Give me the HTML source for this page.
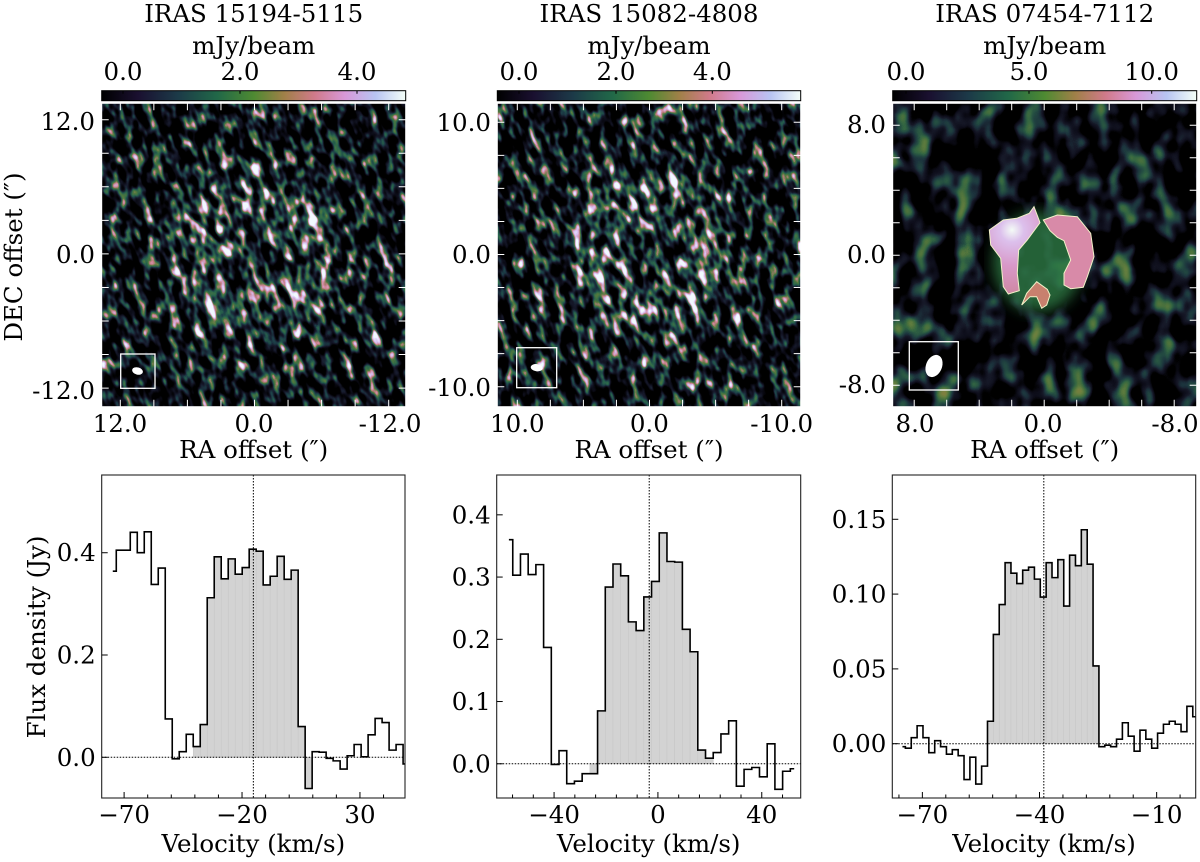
<!DOCTYPE html>
<html><head><meta charset="utf-8"><title>IRAS maps and spectra</title>
<style>
html,body{margin:0;padding:0;background:#fff;}
svg{display:block;font-family:"DejaVu Serif","Liberation Serif",serif;}
</style></head>
<body>
<svg id="fig" width="1200" height="862" viewBox="0 0 1200 862" xmlns="http://www.w3.org/2000/svg">
<defs>
  <linearGradient id="cmap" x1="0" x2="1" y1="0" y2="0">
    <stop offset="0" stop-color="#000000"/>
    <stop offset="0.12" stop-color="#1a1030"/>
    <stop offset="0.25" stop-color="#1c3a48"/>
    <stop offset="0.38" stop-color="#216848"/>
    <stop offset="0.5" stop-color="#4e8a32"/>
    <stop offset="0.6" stop-color="#a08048"/>
    <stop offset="0.7" stop-color="#d07a8a"/>
    <stop offset="0.8" stop-color="#d898d8"/>
    <stop offset="0.9" stop-color="#b8c4f2"/>
    <stop offset="1" stop-color="#f4fff8"/>
  </linearGradient>
  <radialGradient id="ring1" gradientUnits="objectBoundingBox" cx="0.5" cy="0.5" r="0.5">
    <stop offset="0" stop-color="rgb(40,40,40)"/>
    <stop offset="0.2" stop-color="rgb(110,110,110)"/>
    <stop offset="0.3" stop-color="rgb(130,130,130)"/>
    <stop offset="0.4" stop-color="rgb(30,30,30)"/>
    <stop offset="1" stop-color="rgb(0,0,0)"/>
  </radialGradient>
  <filter id="noiseA" x="0" y="0" width="1" height="1" color-interpolation-filters="sRGB">
    <feTurbulence type="fractalNoise" baseFrequency="0.11 0.06" numOctaves="2" seed="4" result="t"/>
    <feColorMatrix in="t" type="matrix" values="1 0 0 0 0  1 0 0 0 0  1 0 0 0 0  0 0 0 0 1" result="g"/>
    <feComposite in="g" in2="SourceGraphic" operator="arithmetic" k1="0" k2="1" k3="0.28" k4="-0.01" result="m"/>
    <feComponentTransfer in="m">
      <feFuncR type="table" tableValues="0 0 0 0 0 0 0 0 0 0 0.04 0.09 0.11 0.16 0.33 0.8 0.85 0.95 0.95 0.95 0.95"/>
      <feFuncG type="table" tableValues="0 0 0 0 0 0 0 0 0 0 0.04 0.1 0.24 0.4 0.48 0.5 0.75 0.98 0.98 0.98 0.98"/>
      <feFuncB type="table" tableValues="0 0 0 0 0 0 0 0 0 0 0.08 0.17 0.28 0.3 0.24 0.55 0.95 1 1 1 1"/>
      <feFuncA type="table" tableValues="1 1"/>
    </feComponentTransfer>
  </filter>
  <filter id="noiseB" x="0" y="0" width="1" height="1" color-interpolation-filters="sRGB">
    <feTurbulence type="fractalNoise" baseFrequency="0.045 0.035" numOctaves="2" seed="9" result="t"/>
    <feColorMatrix in="t" type="matrix" values="1 0 0 0 0  1 0 0 0 0  1 0 0 0 0  0 0 0 0 1" result="g"/>
    <feComposite in="g" in2="SourceGraphic" operator="arithmetic" k1="0" k2="1" k3="0" k4="-0.03" result="m"/>
    <feComponentTransfer in="m">
      <feFuncR type="table" tableValues="0 0 0 0 0 0 0 0 0 0 0.05 0.09 0.11 0.14 0.2 0.3 0.4 0.5 0.5 0.5 0.5"/>
      <feFuncG type="table" tableValues="0 0 0 0 0 0 0 0 0 0 0.05 0.1 0.2 0.3 0.4 0.45 0.5 0.5 0.5 0.5 0.5"/>
      <feFuncB type="table" tableValues="0 0 0 0 0 0 0 0 0 0 0.1 0.16 0.24 0.26 0.26 0.24 0.25 0.25 0.25 0.25 0.25"/>
      <feFuncA type="table" tableValues="1 1"/>
    </feComponentTransfer>
  </filter>
  <filter id="blur6"><feGaussianBlur stdDeviation="7"/></filter>
  <clipPath id="mc1"><rect x="101.7" y="103.3" width="304" height="303.4"/></clipPath>
  <clipPath id="mc2"><rect x="497.3" y="103.3" width="303.4" height="303.4"/></clipPath>
  <clipPath id="mc3"><rect x="892.7" y="103.3" width="304" height="303.4"/></clipPath>
  <radialGradient id="pinkFill" gradientUnits="userSpaceOnUse" cx="1012" cy="230" r="60">
    <stop offset="0" stop-color="#f4fbf6"/>
    <stop offset="0.2" stop-color="#dcc0ec"/>
    <stop offset="0.6" stop-color="#d898c8"/>
    <stop offset="1" stop-color="#d08aa8"/>
  </radialGradient>
</defs>

<!-- ================= MAP PANEL 1 ================= -->
<g>
  <text x="253.7" y="22" font-size="24.5" text-anchor="middle">IRAS 15194-5115</text>
  <text x="253.7" y="54" font-size="24.5" text-anchor="middle">mJy/beam</text>
  <rect x="101.7" y="90.7" width="304" height="10" fill="url(#cmap)" stroke="#000" stroke-width="1"/>
  <g font-size="24.5" text-anchor="middle">
    <text x="123" y="80">0.0</text><text x="240" y="80">2.0</text><text x="357" y="80">4.0</text>
    <path d="M123 90.7v3M240 90.7v3M357 90.7v3" stroke="#000"/>
  </g>
  <g clip-path="url(#mc1)">
    <rect x="20" y="20" width="470" height="470" fill="url(#ring1)" filter="url(#noiseA)" transform="rotate(-20 253.7 255)"/>
    <rect x="120.7" y="354" width="34.3" height="34.3" fill="none" stroke="#fff" stroke-width="1.3"/>
    <ellipse cx="137.5" cy="371" rx="5.5" ry="3.6" transform="rotate(15 137.5 371)" fill="#fff"/>
  </g>
  <rect x="101.7" y="103.3" width="304" height="303.4" fill="none" stroke="#fff" stroke-width="1"/>
  <g id="mt1" stroke="#fff" stroke-width="1"></g>
  <g font-size="24.5">
    <text x="95" y="130" text-anchor="end">12.0</text>
    <text x="95" y="263" text-anchor="end">0.0</text>
    <text x="95" y="399" text-anchor="end">-12.0</text>
    <text x="120" y="432" text-anchor="middle">12.0</text>
    <text x="254" y="432" text-anchor="middle">0.0</text>
    <text x="390" y="432" text-anchor="middle">-12.0</text>
  </g>
  <text x="253.7" y="458" font-size="24.5" text-anchor="middle">RA offset (″)</text>
  <text transform="translate(22 257) rotate(-90)" font-size="24.5" text-anchor="middle">DEC offset (″)</text>
</g>

<!-- ================= MAP PANEL 2 ================= -->
<g>
  <text x="649" y="22" font-size="24.5" text-anchor="middle">IRAS 15082-4808</text>
  <text x="649" y="54" font-size="24.5" text-anchor="middle">mJy/beam</text>
  <rect x="497.3" y="90.7" width="303.4" height="10" fill="url(#cmap)" stroke="#000" stroke-width="1"/>
  <g font-size="24.5" text-anchor="middle">
    <text x="519" y="80">0.0</text><text x="616" y="80">2.0</text><text x="712.3" y="80">4.0</text>
    <path d="M519 90.7v3M616 90.7v3M712.3 90.7v3" stroke="#000"/>
  </g>
  <g clip-path="url(#mc2)">
    <rect x="415" y="20" width="470" height="470" fill="url(#ring1)" filter="url(#noiseA)" transform="rotate(-18 649 255)"/>
    <rect x="516.7" y="347.7" width="40" height="40" fill="none" stroke="#fff" stroke-width="1.3"/>
    <ellipse cx="536.7" cy="367.7" rx="6" ry="3.6" transform="rotate(8 536.7 367.7)" fill="#fff"/>
  </g>
  <rect x="497.3" y="103.3" width="303.4" height="303.4" fill="none" stroke="#fff" stroke-width="1"/>
  <g id="mt2" stroke="#fff" stroke-width="1"></g>
  <g font-size="24.5">
    <text x="491" y="131" text-anchor="end">10.0</text>
    <text x="491" y="263" text-anchor="end">0.0</text>
    <text x="491" y="396" text-anchor="end">-10.0</text>
    <text x="517.3" y="432" text-anchor="middle">10.0</text>
    <text x="649.3" y="432" text-anchor="middle">0.0</text>
    <text x="781.7" y="432" text-anchor="middle">-10.0</text>
  </g>
  <text x="649" y="458" font-size="24.5" text-anchor="middle">RA offset (″)</text>
</g>

<!-- ================= MAP PANEL 3 ================= -->
<g>
  <text x="1044.7" y="22" font-size="24.5" text-anchor="middle">IRAS 07454-7112</text>
  <text x="1044.7" y="54" font-size="24.5" text-anchor="middle">mJy/beam</text>
  <rect x="892.7" y="90.7" width="304" height="10" fill="url(#cmap)" stroke="#000" stroke-width="1"/>
  <g font-size="24.5" text-anchor="middle">
    <text x="906" y="80">0.0</text><text x="1029" y="80">5.0</text><text x="1151.7" y="80">10.0</text>
    <path d="M906 90.7v3M1029 90.7v3M1151.7 90.7v3" stroke="#000"/>
  </g>
  <g clip-path="url(#mc3)">
    <rect x="892.7" y="103.3" width="304" height="303.4" fill="#000" filter="url(#noiseB)"/>
    <ellipse cx="1038" cy="262" rx="45" ry="50" fill="#2f7a45" opacity="0.8" filter="url(#blur6)"/>
    <path id="ringL" d="" fill="url(#pinkFill)" stroke="#f2f2c8" stroke-width="1"/>
    <path id="ringR" d="" fill="#d88aa8" stroke="#f2f2c8" stroke-width="1"/>
    <path id="ringB" d="" fill="#c8806e" stroke="#f2f2c8" stroke-width="1"/>
    <rect x="909.3" y="341.7" width="49" height="48.3" fill="none" stroke="#fff" stroke-width="1.3"/>
    <ellipse cx="934" cy="366" rx="8" ry="11.5" transform="rotate(22 934 366)" fill="#fff"/>
  </g>
  <rect x="892.7" y="103.3" width="304" height="303.4" fill="none" stroke="#fff" stroke-width="1"/>
  <g id="mt3" stroke="#fff" stroke-width="1"></g>
  <g font-size="24.5">
    <text x="886" y="133" text-anchor="end">8.0</text>
    <text x="886" y="263" text-anchor="end">0.0</text>
    <text x="886" y="393" text-anchor="end">-8.0</text>
    <text x="915" y="432" text-anchor="middle">8.0</text>
    <text x="1043" y="432" text-anchor="middle">0.0</text>
    <text x="1175" y="432" text-anchor="middle">-8.0</text>
  </g>
  <text x="1044.7" y="458" font-size="24.5" text-anchor="middle">RA offset (″)</text>
</g>

<text transform="translate(45 637) rotate(-90)" font-size="24.5" text-anchor="middle">Flux density (Jy)</text>
<g id="spectra"></g>
</svg>

<script>
// ---------------- spectrum data ----------------
const flux1 = [0.364,0.405,0.405,0.44,0.40,0.441,0.338,0.37,0.075,-0.003,0.011,0.045,0.021,0.064,0.312,0.392,0.349,0.388,0.358,0.371,0.407,0.403,0.337,0.354,0.393,0.348,0.366,0.06,-0.061,0.011,0.01,-0.002,-0.007,-0.023,0.003,0.025,0.001,0.044,0.076,0.068,0.014,0.025,-0.013];
const velStart1 = -74.8;
const chanWidth1 = 2.966;
const fillBins1 = [12, 28];
const vsys1 = -15.2;
const xMajor1 = [-70, -20, 30];
const xMinor1 = [-80,-60,-50,-40,-30,-10,0,10,20,40];
const yTicks1 = [0.0, 0.2, 0.4];
const yLabels1 = ["0.0", "0.2", "0.4"];

const flux2 = [0.36,0.303,0.337,0.304,0.32,0.187,-0.001,0.021,-0.032,-0.028,-0.016,-0.016,0.085,0.284,0.321,0.302,0.228,0.214,0.268,0.293,0.371,0.325,0.324,0.216,0.18,0.022,0.009,0.018,0.048,0.069,-0.036,-0.009,-0.006,-0.021,0.032,-0.041,-0.012,-0.008];
const velStart2 = -57.4;
const chanWidth2 = 2.97;
const fillBins2 = [11, 26];
const vsys2 = -3.35;
const xMajor2 = [-40, 0, 40];
const xMinor2 = [-56,-48,-32,-24,-16,-8,8,16,24,32,48];
const yTicks2 = [0.0, 0.1, 0.2, 0.3, 0.4];
const yLabels2 = ["0.0", "0.1", "0.2", "0.3", "0.4"];

const flux3 = [-0.002,-0.003,0.004,0.012,0.004,-0.006,0.002,-0.002,-0.007,-0.004,-0.008,-0.024,-0.009,-0.027,-0.015,0.015,0.073,0.093,0.121,0.114,0.107,0.116,0.118,0.110,0.098,0.121,0.111,0.123,0.092,0.126,0.119,0.143,0.120,0.052,-0.002,-0.001,-0.002,0.003,0.014,0.005,-0.005,0.009,0.003,-0.003,0.007,0.013,0.015,0.013,0.008,0.025,0.018,0.005];
const velStart3 = -75.1;
const chanWidth3 = 1.502;
const fillBins3 = [15, 33];
const vsys3 = -38.9;
const xMajor3 = [-70, -40, -10];
const xMinor3 = [-76,-64,-58,-52,-46,-34,-28,-22,-16,-4];
const yTicks3 = [0.0, 0.05, 0.10, 0.15];
const yLabels3 = ["0.00", "0.05", "0.10", "0.15"];

const NS = "http://www.w3.org/2000/svg";
function mk(tag, attrs, parent) {
  const e = document.createElementNS(NS, tag);
  for (const k in attrs) e.setAttribute(k, attrs[k]);
  if (parent) parent.appendChild(e);
  return e;
}

const panels = [
  {id:1, flux:flux1, v0:velStart1, dv:chanWidth1, fill:fillBins1, vsys:vsys1, xMaj:xMajor1, xMin:xMinor1, yT:yTicks1, yL:yLabels1,
   box:[101.7,475,405,798], xlim:[-79.5,49.1], ylim:[-0.0796,0.552]},
  {id:2, flux:flux2, v0:velStart2, dv:chanWidth2, fill:fillBins2, vsys:vsys2, xMaj:xMajor2, xMin:xMinor2, yT:yTicks2, yL:yLabels2,
   box:[496.7,475,800.7,798], xlim:[-62.1,55.0], ylim:[-0.055,0.464]},
  {id:3, flux:flux3, v0:velStart3, dv:chanWidth3, fill:fillBins3, vsys:vsys3, xMaj:xMajor3, xMin:xMinor3, yT:yTicks3, yL:yLabels3,
   box:[892.3,475,1195.7,798], xlim:[-77.7,0.0], ylim:[-0.0363,0.1796]}
];

const root = document.getElementById('spectra');
const defs = document.querySelector('defs');

panels.forEach(p => {
  const [x0,y0,x1,y1] = p.box;
  const sx = v => x0 + (v - p.xlim[0]) / (p.xlim[1] - p.xlim[0]) * (x1 - x0);
  const sy = f => y1 - (f - p.ylim[0]) / (p.ylim[1] - p.ylim[0]) * (y1 - y0);
  const cp = mk('clipPath', {id:'sc'+p.id}, defs);
  mk('rect', {x:x0, y:y0, width:x1-x0, height:y1-y0}, cp);

  const g = mk('g', {}, root);
  
  
  const cg = mk('g', {'clip-path':'url(#sc'+p.id+')'}, g);

  const centers = p.flux.map((_, i) => p.v0 + i * p.dv);
  for (let i = p.fill[0]; i <= p.fill[1]; i++) {
    const xa = sx(centers[i] - p.dv/2), xb = sx(centers[i] + p.dv/2);
    const ya = sy(0), yb = sy(p.flux[i]);
    const r = mk('rect', {x:xa, y:Math.min(ya,yb), width:xb-xa, height:Math.abs(ya-yb), fill:'#d3d3d3', stroke:'#c6c6c6', 'stroke-width':0.5}, cg);
    
    
  }
  const zl = mk('line', {x1:x0, x2:x1, y1:sy(0), y2:sy(0), stroke:'#000', 'stroke-width':1, 'stroke-dasharray':'1.5 1.5'}, cg);
  
  
  const vl = mk('line', {x1:sx(p.vsys), x2:sx(p.vsys), y1:y0, y2:y1, stroke:'#000', 'stroke-width':1, 'stroke-dasharray':'1.5 1.5'}, cg);
  
  
  let d = '';
  const n = p.flux.length;
  for (let i = 0; i < n; i++) {
    const xa = i === 0 ? sx(centers[0]) : sx(centers[i] - p.dv/2);
    const xb = i === n-1 ? sx(centers[i]) : sx(centers[i] + p.dv/2);
    const y = sy(p.flux[i]);
    d += (i === 0 ? 'M' : 'L') + xa.toFixed(2) + ' ' + y.toFixed(2) + 'L' + xb.toFixed(2) + ' ' + y.toFixed(2);
  }
  const sl = mk('path', {d:d, fill:'none', stroke:'#000', 'stroke-width':1.6, 'stroke-linejoin':'miter'}, cg);
  
  
  const fr = mk('rect', {x:x0, y:y0, width:x1-x0, height:y1-y0, fill:'none', stroke:'#222', 'stroke-width':1.1}, g);
  
  
  p.xMaj.forEach(v => {
    const t = mk('line', {x1:sx(v), x2:sx(v), y1:y1, y2:y1-6, stroke:'#000', 'stroke-width':1}, g);
    
    
    const lab = mk('text', {x:sx(v), y:823, 'font-size':24.5, 'text-anchor':'middle'}, g);
    lab.textContent = String(v).replace('-', '\u2212');
    
    
  });
  p.xMin.forEach(v => {
    if (v < p.xlim[0] || v > p.xlim[1]) return;
    const t = mk('line', {x1:sx(v), x2:sx(v), y1:y1, y2:y1-3.5, stroke:'#000', 'stroke-width':1}, g);
    
    
  });
  p.yT.forEach((f, k) => {
    const t = mk('line', {x1:x0, x2:x0+6, y1:sy(f), y2:sy(f), stroke:'#000', 'stroke-width':1}, g);
    
    
    const lab = mk('text', {x:x0-6, y:sy(f)+8.5, 'font-size':24.5, 'text-anchor':'end'}, g);
    lab.textContent = p.yL[k];
    
    
  });
  const xt = mk('text', {x:(x0+x1)/2, y:852, 'font-size':24.5, 'text-anchor':'middle'}, g);
  xt.textContent = 'Velocity (km/s)';
  
  
});

function mapTicks(id, x0, y0, w, h, first, step, count) {
  const g = document.getElementById(id);
  let d = '';
  for (let k = 0; k < count; k++) {
    const x = x0 + first + k * step;
    d += 'M' + x + ' ' + (y0+h) + 'v-7M' + x + ' ' + y0 + 'v7';
  }
  for (let k = 0; k < count; k++) {
    const y = y0 + h - first - k * step;
    d += 'M' + x0 + ' ' + y + 'h7M' + (x0+w) + ' ' + y + 'h-7';
  }
  const p = mk('path', {d:d}, g);
  
  
}
mapTicks('mt1', 101.7, 103.3, 304, 303.4, 18.6, 33.55, 9);
mapTicks('mt2', 497.3, 103.3, 303.4, 303.4, 20, 33.05, 9);
mapTicks('mt3', 892.7, 103.3, 304, 303.4, 21.5, 32.5, 9);

function ringPath(pts) {
  return 'M' + pts.map(q => (830 + q[0]/3).toFixed(1) + ' ' + (q[1]/3).toFixed(1)).join('L') + 'Z';
}
document.getElementById('ringL').setAttribute('d', ringPath([[630,668],[612,620],[598,640],[560,655],[520,660],[478,690],[482,735],[512,775],[520,860],[535,882],[568,872],[562,820],[566,750],[592,720]]));
document.getElementById('ringR').setAttribute('d', ringPath([[640,660],[682,645],[742,650],[782,700],[792,770],[772,830],[760,862],[722,866],[702,855],[702,820],[722,780],[702,722],[682,712],[660,692]]));
document.getElementById('ringB').setAttribute('d', ringPath([[575,915],[590,880],[620,845],[652,868],[660,885],[650,915],[635,925],[620,890],[600,890]]));
</script>
</body></html>
